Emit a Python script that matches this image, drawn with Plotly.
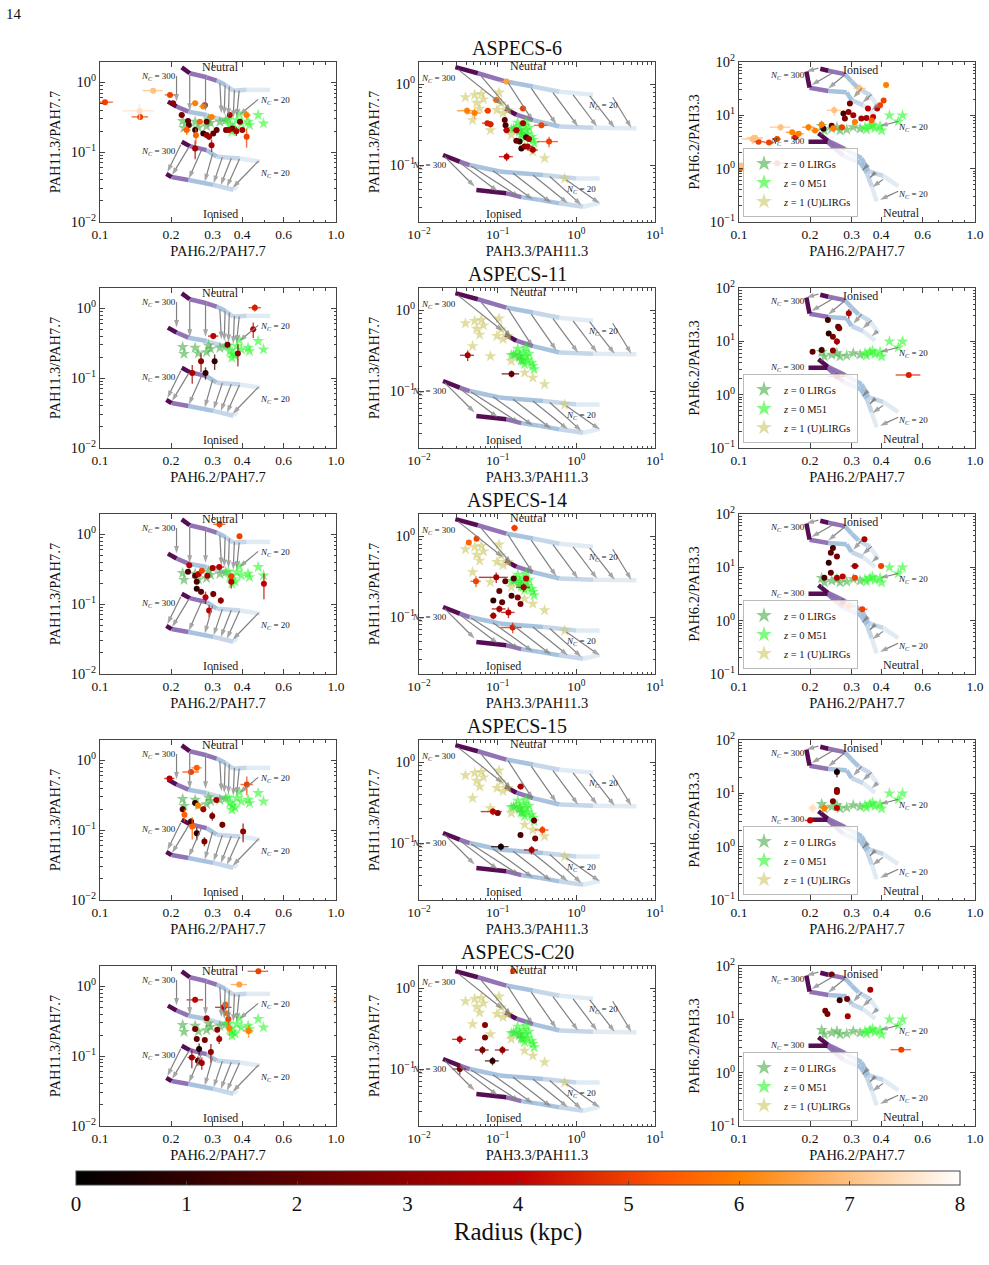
import math
import plotly.graph_objects as go

SERIF = "Liberation Serif"
W, H = 989, 1265

# ---------------- data ----------------
GALAXIES = ["ASPECS-6", "ASPECS-11", "ASPECS-14", "ASPECS-15", "ASPECS-C20"]
X_TITLES = ["PAH6.2/PAH7.7", "PAH3.3/PAH11.3", "PAH6.2/PAH7.7"]
Y_TITLES = ["PAH11.3/PAH7.7", "PAH11.3/PAH7.7", "PAH6.2/PAH3.3"]

# model tracks (x list, y list), ordered from N_C = 300 to N_C = 20
C1_NEU_A = ([0.222, 0.240, 0.283, 0.312, 0.339, 0.367, 0.418, 0.525], [1.64, 1.35, 1.18, 1.06, 0.92, 0.76, 0.78, 0.78])
C1_NEU_B = ([0.194, 0.211, 0.237, 0.283, 0.333, 0.373], [0.53, 0.45, 0.38, 0.34, 0.29, 0.26])
C1_ION_A = ([0.222, 0.240, 0.283, 0.312, 0.392, 0.476], [0.141, 0.122, 0.107, 0.086, 0.081, 0.073])
C1_ION_B = ([0.191, 0.201, 0.237, 0.302, 0.367, 0.380], [0.049, 0.044, 0.040, 0.034, 0.029, 0.033])

C2_NEU_A = ([0.029, 0.056, 0.129, 0.281, 0.61, 1.63], [1.63, 1.37, 1.08, 0.94, 0.81, 0.74])
C2_NEU_B = ([0.125, 0.173, 0.281, 0.61, 1.63, 5.8], [0.50, 0.42, 0.36, 0.30, 0.29, 0.285])
C2_ION_A = ([0.0202, 0.0329, 0.044, 0.106, 0.377, 1.0, 1.98], [0.133, 0.110, 0.100, 0.083, 0.075, 0.068, 0.068])
C2_ION_B = ([0.0536, 0.129, 0.2, 0.342, 0.61, 1.22, 1.98], [0.049, 0.0446, 0.040, 0.037, 0.0335, 0.0304, 0.034])

C3_ION_A = ([0.221, 0.239, 0.281, 0.300, 0.321, 0.359, 0.389], [74.7, 68.4, 59.2, 43, 32, 24, 14.4])
C3_ION_B = ([0.193, 0.199, 0.239, 0.286, 0.300, 0.336, 0.377], [66.5, 33, 28.6, 27, 19.3, 15.5, 10.3])
C3_NEU_A = ([0.217, 0.238, 0.281, 0.331, 0.353, 0.408, 0.473], [4.6, 3.35, 2.33, 1.57, 0.90, 0.73, 0.47])
C3_NEU_B = ([0.197, 0.237, 0.277, 0.326, 0.348, 0.365, 0.383], [3.2, 3.2, 1.74, 1.30, 0.84, 0.47, 0.243])

# arrows: (x_start, y_start, x_end, y_end)
C1_ARROWS = [
    (0.211, 1.23, 0.211, 0.53), (0.240, 1.27, 0.240, 0.39), (0.280, 1.18, 0.280, 0.39),
    (0.322, 0.97, 0.327, 0.36), (0.339, 0.92, 0.336, 0.34), (0.353, 0.87, 0.350, 0.33),
    (0.371, 0.78, 0.367, 0.31), (0.389, 0.76, 0.379, 0.32), (0.468, 0.57, 0.389, 0.34),
    (0.220, 0.128, 0.193, 0.052), (0.238, 0.118, 0.202, 0.047), (0.270, 0.110, 0.238, 0.042),
    (0.300, 0.095, 0.278, 0.038), (0.330, 0.085, 0.303, 0.036), (0.360, 0.082, 0.325, 0.034),
    (0.390, 0.080, 0.345, 0.032), (0.470, 0.075, 0.365, 0.031),
]
C2_ARROWS = [
    (0.0313, 1.53, 0.117, 0.55), (0.062, 1.25, 0.149, 0.46), (0.135, 1.05, 0.281, 0.35),
    (0.268, 0.89, 0.557, 0.32), (0.505, 0.79, 1.05, 0.30), (0.91, 0.74, 1.83, 0.30),
    (1.48, 0.72, 3.07, 0.29), (2.9, 0.69, 5.0, 0.29),
    (0.0212, 0.127, 0.051, 0.054), (0.0329, 0.107, 0.101, 0.047), (0.046, 0.097, 0.19, 0.040),
    (0.087, 0.085, 0.28, 0.0375), (0.157, 0.079, 0.48, 0.034), (0.28, 0.075, 0.78, 0.0335),
    (0.46, 0.072, 1.16, 0.032), (0.75, 0.065, 1.98, 0.0335),
]
C3_ARROWS = [
    (0.217, 77, 0.193, 66.5), (0.251, 63.7, 0.203, 37), (0.281, 57.5, 0.239, 32),
    (0.331, 32, 0.305, 21.3), (0.365, 24.7, 0.334, 17.4), (0.386, 15.5, 0.365, 12.4),
    (0.473, 7.7, 0.396, 6.3),
    (0.348, 1.12, 0.334, 0.94), (0.377, 0.84, 0.359, 0.675), (0.408, 0.63, 0.368, 0.455),
    (0.473, 0.377, 0.396, 0.262),
]

# text labels: (text, x, y)
C1_LABELS = [("Neutral", 0.323, 1.68), ("Ionised", 0.323, 0.0132), ("NC300", 0.177, 1.21),
             ("NC300", 0.177, 0.101), ("NC20", 0.55, 0.55), ("NC20", 0.55, 0.05)]
C2_LABELS = [("Neutral", 0.243, 1.69), ("Ionised", 0.117, 0.025), ("NC300", 0.0178, 1.19),
             ("NC300", 0.0135, 0.1), ("NC20", 2.18, 0.55), ("NC20", 1.16, 0.05)]
C3_LABELS = [("Ionised", 0.326, 71), ("Neutral", 0.489, 0.146), ("NC300", 0.16, 56),
             ("NC300", 0.16, 3.2), ("NC20", 0.547, 6.0), ("NC20", 0.547, 0.326)]

# comparison samples
C1_LIRG_X = [0.224, 0.227, 0.253, 0.261, 0.283, 0.288, 0.294, 0.322, 0.341]
C1_LIRG_Y = [0.279, 0.223, 0.272, 0.226, 0.236, 0.294, 0.263, 0.272, 0.288]
C1_M51_X = [0.35, 0.355, 0.364, 0.373, 0.362, 0.39, 0.397, 0.424, 0.43, 0.468, 0.493, 0.38]
C1_M51_Y = [0.294, 0.244, 0.226, 0.211, 0.196, 0.351, 0.258, 0.272, 0.244, 0.34, 0.258, 0.288]
C2_LIRG_X = [0.16, 0.19, 0.20]
C2_LIRG_Y = [0.28, 0.27, 0.24]
C2_M51_X = [0.149, 0.173, 0.19, 0.21, 0.23, 0.24, 0.27, 0.28, 0.21, 0.18, 0.25, 0.29, 0.23, 0.22]
C2_M51_Y = [0.277, 0.29, 0.259, 0.305, 0.272, 0.242, 0.224, 0.205, 0.235, 0.335, 0.29, 0.186, 0.345, 0.215]
C2_ULIRG_X = [0.039, 0.051, 0.054, 0.062, 0.066, 0.059, 0.048, 0.081, 0.104, 0.098, 0.111, 0.117, 0.135, 0.149, 0.22, 0.28, 0.395, 0.71]
C2_ULIRG_Y = [0.69, 0.74, 0.59, 0.76, 0.65, 0.50, 0.36, 0.27, 0.79, 0.48, 0.58, 0.44, 0.48, 0.235, 0.169, 0.146, 0.121, 0.068]
C3_LIRG_X = [0.224, 0.23, 0.247, 0.26, 0.268, 0.286, 0.305, 0.326]
C3_LIRG_Y = [6.3, 5.2, 5.6, 6.0, 5.2, 5.4, 6.0, 5.6]
C3_M51_X = [0.342, 0.347, 0.359, 0.368, 0.377, 0.396, 0.402, 0.434, 0.473, 0.493]
C3_M51_Y = [6.0, 5.4, 6.3, 6.65, 5.75, 6.3, 5.2, 10, 7.7, 10]

# ASPECS measurements: (x, y, radius kpc, frac x err, frac y err)
ASPECS6_A = [(0.105, 0.52, 5, 0.08, 0.02), (0.148, 0.32, 5, 0.08, 0.1), (0.147, 0.39, 7.5, 0.15, 0.25),
             (0.168, 0.76, 7, 0.1, 0.06), (0.198, 0.66, 5, 0.05, 0.05), (0.204, 0.50, 3, 0.03, 0.05),
             (0.222, 0.34, 2.5, 0.03, 0.06), (0.233, 0.207, 5.5, 0.04, 0.15), (0.238, 0.244, 1.5, 0.02, 0.05),
             (0.253, 0.207, 1, 0.02, 0.05), (0.255, 0.175, 5.5, 0.02, 0.25), (0.253, 0.113, 3.5, 0.02, 0.3),
             (0.253, 0.50, 6, 0.03, 0.05), (0.274, 0.45, 6, 0.04, 0.08), (0.278, 0.47, 4, 0.03, 0.06),
             (0.265, 0.272, 5.5, 0.03, 0.06), (0.274, 0.185, 1, 0.02, 0.06), (0.283, 0.272, 2, 0.02, 0.06),
             (0.283, 0.176, 3, 0.02, 0.1), (0.29, 0.166, 3.5, 0.02, 0.1), (0.297, 0.126, 3.5, 0.02, 0.2),
             (0.302, 0.185, 2, 0.02, 0.05), (0.297, 0.32, 6, 0.04, 0.08), (0.312, 0.207, 2, 0.02, 0.05),
             (0.342, 0.207, 2.5, 0.02, 0.05), (0.352, 0.207, 3.5, 0.02, 0.08), (0.364, 0.218, 2.5, 0.02, 0.05),
             (0.378, 0.2, 3.5, 0.02, 0.15), (0.392, 0.272, 2.5, 0.02, 0.05), (0.401, 0.207, 3.5, 0.02, 0.08),
             (0.418, 0.34, 6, 0.04, 0.15), (0.418, 0.166, 5, 0.02, 0.3), (0.355, 0.34, 4, 0.02, 0.06),
             (0.236, 0.28, 2, 0.02, 0.05)]
ASPECS6_B = [(0.129, 1.08, 6.5, 0.2, 0.08), (0.096, 0.64, 5.5, 0.1, 0.05), (0.0408, 0.47, 6, 0.25, 0.1),
             (0.051, 0.44, 6, 0.2, 0.15), (0.075, 0.47, 5, 0.1, 0.05), (0.074, 0.33, 4.5, 0.15, 0.06),
             (0.081, 0.32, 4.5, 0.1, 0.08), (0.123, 0.36, 2, 0.05, 0.04), (0.126, 0.31, 1.5, 0.05, 0.04),
             (0.13, 0.27, 4, 0.1, 0.06), (0.21, 0.50, 5, 0.1, 0.05), (0.21, 0.33, 3.5, 0.1, 0.05),
             (0.173, 0.27, 3.5, 0.1, 0.06), (0.173, 0.2, 2, 0.08, 0.05), (0.19, 0.195, 1, 0.05, 0.05),
             (0.2, 0.16, 1, 0.05, 0.05), (0.23, 0.22, 1.5, 0.08, 0.05), (0.22, 0.17, 2.5, 0.1, 0.06),
             (0.24, 0.17, 3.5, 0.15, 0.08), (0.28, 0.154, 3.5, 0.15, 0.1), (0.36, 0.31, 5, 0.2, 0.08),
             (0.45, 0.195, 5, 0.3, 0.15), (0.13, 0.127, 4, 0.2, 0.12), (0.25, 0.21, 3.5, 0.08, 0.05)]
ASPECS6_C = [(0.101, 1.0, 5.5, 0.05, 0.08), (0.102, 1.15, 7, 0.06, 0.08), (0.145, 1.26, 5, 0.1, 0.06),
             (0.114, 3.6, 7, 0.1, 0.2), (0.117, 3.8, 7, 0.08, 0.1), (0.121, 3.2, 5, 0.06, 0.06),
             (0.134, 3.1, 5, 0.05, 0.06), (0.145, 3.6, 5, 0.04, 0.05), (0.15, 6.0, 7, 0.1, 0.15),
             (0.168, 4.8, 6, 0.06, 0.1), (0.179, 4.5, 6, 0.05, 0.08), (0.173, 3.9, 4.5, 0.04, 0.06),
             (0.197, 6.0, 6, 0.06, 0.15), (0.21, 5.2, 6, 0.04, 0.08), (0.224, 6.7, 6, 0.03, 0.15),
             (0.228, 5.6, 1, 0.02, 0.05), (0.247, 6.4, 2, 0.02, 0.05), (0.251, 5.75, 6, 0.04, 0.08),
             (0.253, 12.4, 7, 0.07, 0.2), (0.273, 6.0, 5, 0.03, 0.05), (0.277, 10.8, 1.5, 0.02, 0.05),
             (0.281, 8.7, 2.5, 0.02, 0.05), (0.291, 11.6, 3, 0.02, 0.05), (0.305, 10, 3.5, 0.02, 0.05),
             (0.31, 7.5, 6, 0.03, 0.08), (0.33, 8.7, 3.5, 0.02, 0.05), (0.347, 8.9, 3.5, 0.02, 0.05),
             (0.325, 32, 7, 0.06, 0.2), (0.295, 16.6, 2.5, 0.02, 0.05), (0.352, 13.4, 4, 0.02, 0.05),
             (0.37, 9.3, 4, 0.02, 0.05), (0.385, 13.4, 4, 0.02, 0.05), (0.396, 15.5, 5, 0.02, 0.05),
             (0.41, 19, 5, 0.02, 0.05), (0.42, 37, 6, 0.02, 0.08), (0.365, 8, 5.5, 0.02, 0.05)]

ASPECS11_A = [(0.453, 1.02, 4.5, 0.06, 0.12), (0.446, 0.50, 4, 0.03, 0.25), (0.302, 0.40, 4, 0.05, 0.1),
              (0.347, 0.30, 2.5, 0.02, 0.08), (0.384, 0.226, 3, 0.02, 0.35), (0.268, 0.175, 3, 0.02, 0.3),
              (0.306, 0.175, 1, 0.02, 0.25), (0.246, 0.119, 3.5, 0.03, 0.3), (0.28, 0.119, 1, 0.02, 0.2)]
ASPECS11_B = [(0.0416, 0.277, 3.5, 0.2, 0.15), (0.15, 0.163, 2, 0.25, 0.1)]
ASPECS11_C = [(0.238, 25, 1.5, 0.02, 0.06), (0.292, 33.5, 3.5, 0.02, 0.2), (0.263, 18.8, 2, 0.02, 0.05),
              (0.266, 17.5, 2.5, 0.02, 0.05), (0.24, 14, 1, 0.02, 0.05), (0.25, 12.2, 2.5, 0.02, 0.05),
              (0.26, 9.9, 3.5, 0.03, 0.15), (0.205, 6.4, 2, 0.02, 0.05), (0.224, 6.9, 1.5, 0.02, 0.05),
              (0.25, 6.7, 3, 0.02, 0.05), (0.26, 2.2, 4, 0.08, 0.05), (0.524, 2.34, 4.5, 0.12, 0.05)]

ASPECS14_A = [(0.321, 1.39, 5, 0.06, 0.12), (0.39, 0.94, 5, 0.02, 0.05), (0.239, 0.36, 4, 0.02, 0.1),
              (0.236, 0.29, 1.5, 0.02, 0.05), (0.262, 0.27, 4, 0.02, 0.06), (0.27, 0.30, 5, 0.02, 0.08),
              (0.3, 0.33, 3.5, 0.02, 0.05), (0.32, 0.34, 4, 0.05, 0.1), (0.253, 0.256, 2, 0.02, 0.05),
              (0.285, 0.256, 3.5, 0.02, 0.05), (0.257, 0.21, 1.5, 0.02, 0.05), (0.257, 0.166, 1, 0.02, 0.06),
              (0.268, 0.15, 2, 0.02, 0.08), (0.302, 0.14, 2.5, 0.02, 0.1), (0.28, 0.126, 4, 0.02, 0.2),
              (0.325, 0.113, 3, 0.02, 0.1), (0.29, 0.081, 4, 0.02, 0.2), (0.36, 0.21, 4, 0.02, 0.2),
              (0.36, 0.25, 5, 0.02, 0.05), (0.495, 0.196, 4, 0.02, 0.4)]
ASPECS14_B = [(0.164, 1.27, 5, 0.1, 0.1), (0.054, 0.93, 5, 0.05, 0.05), (0.043, 0.84, 5.5, 0.05, 0.05),
              (0.096, 0.31, 3.5, 0.4, 0.15), (0.053, 0.277, 5, 0.15, 0.15), (0.125, 0.277, 2, 0.05, 0.05),
              (0.16, 0.30, 1.5, 0.05, 0.05), (0.214, 0.233, 3.5, 0.2, 0.12), (0.23, 0.30, 4, 0.05, 0.05),
              (0.105, 0.21, 2, 0.05, 0.05), (0.088, 0.16, 1, 0.05, 0.05), (0.114, 0.152, 2, 0.05, 0.05),
              (0.15, 0.184, 1.5, 0.05, 0.05), (0.195, 0.145, 2.5, 0.05, 0.05), (0.18, 0.175, 3, 0.05, 0.05),
              (0.105, 0.126, 3.5, 0.2, 0.1), (0.137, 0.114, 4, 0.2, 0.15), (0.088, 0.104, 3.5, 0.1, 0.1),
              (0.155, 0.074, 4.5, 0.3, 0.15)]
ASPECS14_C = [(0.34, 33.5, 3.5, 0.02, 0.06), (0.25, 23, 1.5, 0.02, 0.05), (0.245, 18.8, 2, 0.02, 0.05),
              (0.26, 16, 2.5, 0.02, 0.05), (0.24, 12.2, 1, 0.02, 0.05), (0.31, 10.6, 3.5, 0.04, 0.1),
              (0.4, 10.6, 5, 0.03, 0.05), (0.245, 7.95, 2, 0.02, 0.05), (0.23, 6.4, 1.5, 0.02, 0.05),
              (0.26, 6.4, 3.5, 0.02, 0.05), (0.275, 6.7, 4, 0.02, 0.05), (0.31, 6.4, 5, 0.02, 0.05),
              (0.292, 1.88, 5.5, 0.06, 0.1), (0.333, 1.64, 5, 0.05, 0.1), (0.275, 2.2, 4, 0.02, 0.05)]

ASPECS15_A = [(0.197, 0.55, 4, 0.05, 0.03), (0.243, 0.68, 5, 0.08, 0.08), (0.257, 0.78, 5.5, 0.05, 0.1),
              (0.419, 0.45, 5, 0.06, 0.3), (0.224, 0.2, 1.5, 0.02, 0.1), (0.253, 0.244, 1, 0.02, 0.08),
              (0.311, 0.27, 3.5, 0.02, 0.05), (0.228, 0.166, 5.5, 0.02, 0.2), (0.274, 0.2, 3.5, 0.02, 0.1),
              (0.26, 0.226, 6, 0.02, 0.1), (0.299, 0.16, 2.5, 0.02, 0.15), (0.243, 0.133, 1.5, 0.02, 0.1),
              (0.246, 0.113, 5.5, 0.02, 0.35), (0.257, 0.09, 1, 0.02, 0.2), (0.277, 0.069, 2.5, 0.02, 0.15),
              (0.33, 0.12, 2.5, 0.02, 0.1), (0.404, 0.096, 3, 0.02, 0.3)]
ASPECS15_B = [(0.196, 0.50, 3.5, 0.1, 0.08), (0.087, 0.245, 4, 0.3, 0.1), (0.1, 0.235, 2.5, 0.1, 0.06),
              (0.29, 0.19, 2, 0.05, 0.06), (0.37, 0.145, 5, 0.2, 0.12), (0.195, 0.126, 1.5, 0.05, 0.06),
              (0.3, 0.114, 2.5, 0.05, 0.06), (0.11, 0.09, 0.5, 0.25, 0.1), (0.27, 0.082, 3.5, 0.2, 0.12)]
ASPECS15_C = [(0.26, 25, 0.5, 0.02, 0.2), (0.26, 11.5, 2.5, 0.02, 0.05), (0.26, 10.6, 3, 0.02, 0.05),
              (0.25, 7.1, 2.5, 0.02, 0.05), (0.23, 5.3, 6, 0.04, 0.15), (0.205, 5.3, 7.5, 0.05, 0.2),
              (0.26, 5.3, 4, 0.02, 0.05), (0.2, 3.1, 4, 0.05, 0.05)]

ASPECSC20_A = [(0.469, 1.64, 5, 0.1, 0.03), (0.389, 1.06, 6.5, 0.08, 0.06), (1.0, 0.62, 7.5, 0.07, 0.02),
               (0.253, 0.64, 4, 0.08, 0.08), (0.334, 0.50, 4, 0.08, 0.15), (0.34, 0.55, 5.5, 0.02, 0.05),
               (0.344, 0.41, 6, 0.02, 0.1), (0.283, 0.35, 3, 0.02, 0.05), (0.35, 0.34, 5, 0.02, 0.2),
               (0.353, 0.25, 6, 0.02, 0.2), (0.426, 0.23, 6, 0.05, 0.2), (0.253, 0.244, 2.5, 0.02, 0.05),
               (0.257, 0.176, 2, 0.02, 0.06), (0.278, 0.17, 2.5, 0.02, 0.06), (0.314, 0.238, 3, 0.02, 0.08),
               (0.32, 0.176, 3.5, 0.02, 0.15), (0.263, 0.127, 0.5, 0.02, 0.2), (0.245, 0.096, 3.5, 0.04, 0.3),
               (0.26, 0.086, 2, 0.02, 0.15), (0.27, 0.08, 3.5, 0.02, 0.2), (0.295, 0.115, 3, 0.02, 0.3)]
ASPECSC20_B = [(0.157, 1.64, 5, 0.05, 0.05), (0.069, 0.35, 3, 0.05, 0.05), (0.069, 0.245, 2.5, 0.05, 0.05),
               (0.033, 0.233, 4, 0.2, 0.12), (0.064, 0.172, 2.5, 0.2, 0.12), (0.115, 0.172, 3, 0.2, 0.12),
               (0.086, 0.126, 1, 0.2, 0.12), (0.033, 0.10, 2.5, 0.2, 0.15)]
ASPECSC20_C = [(0.247, 69, 2.5, 0.02, 0.05), (0.36, 36, 3.5, 0.02, 0.05), (0.267, 22.7, 1, 0.02, 0.05),
               (0.287, 24, 2.5, 0.02, 0.05), (0.232, 14.5, 2.5, 0.02, 0.05), (0.237, 12.6, 2.5, 0.02, 0.05),
               (0.289, 11.4, 3.5, 0.02, 0.05), (0.487, 2.7, 5, 0.1, 0.05)]

POINTS = [[ASPECS6_A, ASPECS6_B, ASPECS6_C], [ASPECS11_A, ASPECS11_B, ASPECS11_C],
          [ASPECS14_A, ASPECS14_B, ASPECS14_C], [ASPECS15_A, ASPECS15_B, ASPECS15_C],
          [ASPECSC20_A, ASPECSC20_B, ASPECSC20_C]]

RADIUS_TICKS = [0, 1, 2, 3, 4, 5, 6, 7, 8]

# ---------------- styling ----------------
COL_PX = [(100, 336), (419, 655), (739, 975)]
ROW_TOP = [62 + 226 * r for r in range(5)]
PANEL_H = 160
X_RANGE = [[-1, 0], [-2, 1], [-1, 0]]
Y_RANGE = [[-2.0, 0.291], [-1.706, 0.276], [-1, 2.0]]

GIST = [[0, "rgb(0,0,0)"], [0.5, "rgb(191,0,0)"], [2 / 3, "rgb(255,85,0)"],
        [0.75, "rgb(255,128,0)"], [1, "rgb(255,255,255)"]]
TRACK_COLS = ["rgba(77,0,75,0.95)", "rgba(140,107,177,0.95)", "rgba(158,188,218,0.9)",
              "rgba(191,211,230,0.9)", "rgba(222,233,243,0.9)"]
COL_LIRG = "rgba(70,175,70,0.6)"
COL_M51 = "rgba(40,250,40,0.6)"
COL_ULIRG = "rgba(205,200,100,0.6)"
AXCOL = "#444"
ARROWCOL = "#808080"


def gist_rgba(r, a):
    t = min(max(r / 8.0, 0), 1)
    rr = min(1, 1.5 * t)
    gg = max(0, 2 * t - 1)
    bb = max(0, 4 * t - 3)
    return f"rgba({int(rr * 255)},{int(gg * 255)},{int(bb * 255)},{a})"


def sup(n):
    return "10<sup>" + (str(n) if n >= 0 else "\u2212" + str(-n)) + "</sup>"


def minor_vals(lo, hi):
    vals = []
    for d in range(math.floor(lo), math.ceil(hi) + 1):
        for k in range(2, 10):
            v = k * 10 ** d
            if lo <= math.log10(v) <= hi:
                vals.append(v)
    return vals


fig = go.Figure()
layout = dict(width=W, height=H, margin=dict(l=0, r=0, t=0, b=0, autoexpand=False),
              paper_bgcolor="white", plot_bgcolor="white", showlegend=True,
              font=dict(family=SERIF, color="#111"))
annotations = []

TRACKS = [[C1_NEU_A, C1_NEU_B, C1_ION_A, C1_ION_B],
          [C2_NEU_A, C2_NEU_B, C2_ION_A, C2_ION_B],
          [C3_ION_A, C3_ION_B, C3_NEU_A, C3_NEU_B]]
ARROWS = [C1_ARROWS, C2_ARROWS, C3_ARROWS]
LABELS = [C1_LABELS, C2_LABELS, C3_LABELS]
STARS = [
    [(C1_LIRG_X, C1_LIRG_Y), (C1_M51_X, C1_M51_Y), ([], [])],
    [(C2_LIRG_X, C2_LIRG_Y), (C2_M51_X, C2_M51_Y), (C2_ULIRG_X, C2_ULIRG_Y)],
    [(C3_LIRG_X, C3_LIRG_Y), (C3_M51_X, C3_M51_Y), ([], [])],
]
STAR_NAMES = ["<i>z</i> = 0 LIRGs", "<i>z</i> = 0 M51", "<i>z</i> = 1 (U)LIRGs"]
STAR_COLS = [COL_LIRG, COL_M51, COL_ULIRG]

colorbar_done = False
for r in range(5):
    for c in range(3):
        p = r * 3 + c
        sfx = "" if p == 0 else str(p + 1)
        xa, ya = "x" + sfx, "y" + sfx
        x0, x1 = COL_PX[c]
        top = ROW_TOP[r]
        xr, yr = X_RANGE[c], Y_RANGE[c]
        if c == 1:
            xt = [0.01, 0.1, 1, 10]
            xtt = [sup(-2), sup(-1), sup(0), sup(1)]
            xminor = minor_vals(xr[0], xr[1])
        else:
            xt = [0.1, 0.2, 0.3, 0.4, 0.6, 1.0]
            xtt = ["0.1", "0.2", "0.3", "0.4", "0.6", "1.0"]
            xminor = [0.5, 0.7, 0.8, 0.9]
        yt = [10 ** k for k in range(math.ceil(yr[0] - 1e-9), math.floor(yr[1]) + 1)]
        ytt = [sup(int(round(math.log10(v)))) for v in yt]
        common = dict(type="log", showline=True, linecolor=AXCOL, linewidth=1, mirror="allticks",
                      ticks="inside", ticklen=5, tickwidth=1, tickcolor=AXCOL, showgrid=False,
                      zeroline=False)
        layout["xaxis" + sfx] = dict(common, domain=[x0 / W, x1 / W], range=xr, anchor=ya,
                                     tickmode="array", tickvals=xt, ticktext=xtt,
                                     tickfont=dict(family=SERIF, size=13.5, color="#111"),
                                     minor=dict(ticks="inside", ticklen=2.5, tickcolor=AXCOL,
                                                tickmode="array", tickvals=xminor),
                                     title=dict(text=X_TITLES[c], standoff=4,
                                                font=dict(family=SERIF, size=14.5, color="#111")))
        layout["yaxis" + sfx] = dict(common, domain=[1 - (top + PANEL_H) / H, 1 - top / H], range=yr,
                                     anchor=xa, tickmode="array", tickvals=yt, ticktext=ytt,
                                     tickfont=dict(family=SERIF, size=14.5, color="#111"),
                                     minor=dict(ticks="inside", ticklen=2.5, tickcolor=AXCOL,
                                                tickmode="array", tickvals=minor_vals(yr[0], yr[1])),
                                     title=dict(text=Y_TITLES[c], standoff=6,
                                                font=dict(family=SERIF, size=14.5, color="#111")))

        # model tracks, grouped by colour
        groups = {}
        for tx, ty in TRACKS[c]:
            nseg = len(tx) - 1
            for i in range(nseg):
                idx = int(round(i / max(nseg - 1, 1) * (len(TRACK_COLS) - 1)))
                gx, gy = groups.setdefault(idx, ([], []))
                gx += [tx[i], tx[i + 1], None]
                gy += [ty[i], ty[i + 1], None]
        for idx in sorted(groups, reverse=True):
            gx, gy = groups[idx]
            fig.add_trace(go.Scatter(x=gx, y=gy, mode="lines", xaxis=xa, yaxis=ya,
                                     line=dict(color=TRACK_COLS[idx], width=4.5),
                                     showlegend=False, hoverinfo="skip"))

        # comparison stars
        lg = "legend" if r == 0 else f"legend{r + 1}"
        for k, (sx, sy) in enumerate(STARS[c]):
            inleg = (c == 2)
            if not sx and not inleg:
                continue
            fig.add_trace(go.Scatter(x=sx if sx else [None], y=sy if sy else [None], mode="markers",
                                     xaxis=xa, yaxis=ya, name=STAR_NAMES[k],
                                     marker=dict(symbol="star", size=9, color=STAR_COLS[k],
                                                 line=dict(width=0)),
                                     showlegend=inleg, legend=lg if inleg else None,
                                     hoverinfo="skip"))

        # ASPECS points grouped by radius
        pts = POINTS[r][c]
        radii = sorted(set(pt[2] for pt in pts))
        for rad in radii:
            sel = [pt for pt in pts if pt[2] == rad]
            mk = dict(size=6, color=[rad] * len(sel), colorscale=GIST, cmin=0, cmax=8,
                      line=dict(width=0))
            if not colorbar_done:
                mk.update(showscale=True, colorbar=dict(
                    orientation="h", x=518 / W, xanchor="center", y=1 - 1171 / H, yanchor="top",
                    len=884 / W, lenmode="fraction", thickness=14, thicknessmode="pixels",
                    xpad=0, ypad=0, tickmode="array", tickvals=RADIUS_TICKS, ticks="inside",
                    ticklen=4, tickcolor=AXCOL, outlinewidth=1, outlinecolor=AXCOL,
                    tickfont=dict(family=SERIF, size=21, color="#111"),
                    title=dict(text="Radius (kpc)", side="bottom",
                               font=dict(family=SERIF, size=25, color="#111"))))
                colorbar_done = True
            ecol = gist_rgba(rad, 0.75)
            fig.add_trace(go.Scatter(
                x=[pt[0] for pt in sel], y=[pt[1] for pt in sel], mode="markers",
                xaxis=xa, yaxis=ya, marker=mk, showlegend=False, hoverinfo="skip",
                error_x=dict(type="data", array=[pt[0] * pt[3] for pt in sel], color=ecol,
                             thickness=1.4, width=0),
                error_y=dict(type="data", array=[pt[1] * pt[4] for pt in sel], color=ecol,
                             thickness=1.4, width=0)))

        # arrows (line + arrow-head marker oriented along the segment)
        axs, ays, asz = [], [], []
        for (xs, ys, xe, ye) in ARROWS[c]:
            axs += [xs, xe, None]
            ays += [ys, ye, None]
            asz += [0, 8, 0]
        fig.add_trace(go.Scatter(x=axs, y=ays, mode="lines+markers", xaxis=xa, yaxis=ya,
                                 line=dict(color=ARROWCOL, width=1.2),
                                 marker=dict(symbol="arrow", size=asz, angleref="previous",
                                             color=ARROWCOL, line=dict(width=0)),
                                 showlegend=False, hoverinfo="skip", cliponaxis=False))

        # labels
        for (txt, lx, ly) in LABELS[c]:
            if txt == "NC300":
                t, fs = "<i>N<sub>C</sub></i> = 300", 9
            elif txt == "NC20":
                t, fs = "<i>N<sub>C</sub></i> = 20", 9
            else:
                t, fs = txt, 12
            annotations.append(dict(x=math.log10(lx), y=math.log10(ly), xref=xa, yref=ya,
                                    text=t, showarrow=False, xanchor="center", yanchor="middle",
                                    font=dict(family=SERIF, size=fs, color="#222")))

        if c == 2:
            layout[lg] = dict(x=743 / W, y=1 - (217 + 226 * r) / H, xanchor="left", yanchor="bottom",
                              bgcolor="rgba(255,255,255,0.85)", bordercolor="#bbb", borderwidth=1,
                              font=dict(family=SERIF, size=10.5, color="#111"),
                              itemsizing="constant", itemwidth=30, tracegroupgap=0)

    annotations.append(dict(x=517 / W, y=1 - (48 + 226 * r) / H, xref="paper", yref="paper",
                            text=GALAXIES[r], showarrow=False, xanchor="center", yanchor="middle",
                            font=dict(family=SERIF, size=20, color="#111")))

annotations.append(dict(x=4 / W, y=1 - 14 / H, xref="paper", yref="paper", text="14",
                        showarrow=False, xanchor="left", yanchor="middle",
                        font=dict(family=SERIF, size=15, color="#111")))
layout["annotations"] = annotations
fig.update_layout(**layout)
fig.write_html("out.html")
